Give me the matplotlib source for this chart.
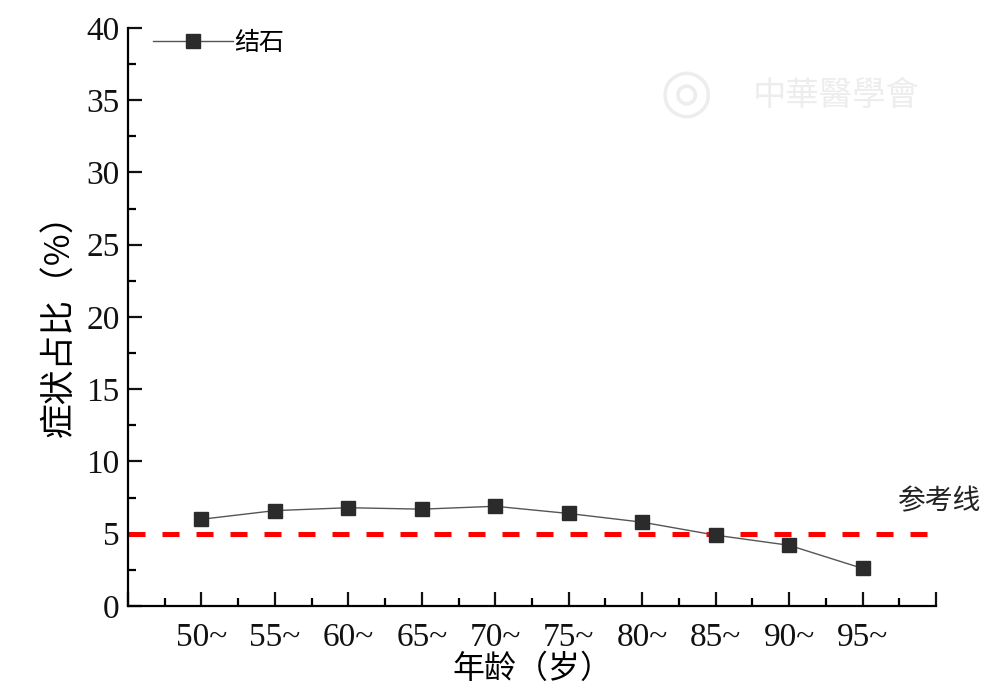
import numpy as np
import matplotlib.pyplot as plt
from matplotlib.ticker import MultipleLocator

plt.rcParams['font.family'] = ['Liberation Serif', 'Noto Sans CJK SC']
plt.rcParams['mathtext.fontset'] = 'stix'

# Daten
age_groups = ['50~', '55~', '60~', '65~', '70~', '75~', '80~', '85~', '90~', '95~']
stone_pct = [6.0, 6.6, 6.8, 6.7, 6.9, 6.4, 5.8, 4.9, 4.2, 2.6]
reference_value = 5

cjk = ['Noto Sans CJK SC', 'Liberation Serif']

fig = plt.figure(figsize=(9.95, 6.89), dpi=100)
ax = fig.add_axes([0.1286, 0.1205, 0.8121, 0.8389])

pos = np.arange(1, len(age_groups) + 1)
ax.plot(pos, stone_pct, color='#555555', lw=1.0, marker='s', ms=10,
        mfc='#2b2b2b', mec='#2b2b2b', label='结石', zorder=3)

ax.axhline(reference_value, color='#ff0000', lw=3.6, dashes=(3.4, 3.4), zorder=2)

ax.set_xlim(0, 11)
ax.set_ylim(0, 40)

ax.set_xticks(np.arange(0, 12))
ax.set_xticklabels([''] + age_groups + [''])
ax.xaxis.set_minor_locator(MultipleLocator(0.5))
ax.yaxis.set_major_locator(MultipleLocator(5))
ax.yaxis.set_minor_locator(MultipleLocator(2.5))

for side in ['top', 'right']:
    ax.spines[side].set_visible(False)
for side in ['left', 'bottom']:
    ax.spines[side].set_linewidth(1.6)

ax.tick_params(which='major', direction='in', length=10, width=1.6,
               labelsize=24, colors='#111111', pad=6)
ax.tick_params(which='minor', direction='in', length=6, width=1.6)
ax.tick_params(axis='x', which='major', pad=12)

ax.set_ylabel('症状占比（%）', family=cjk, fontsize=25, labelpad=6)
ax.set_xlabel('年龄（岁）', family=cjk, fontsize=23, labelpad=0)

leg = ax.legend(loc='upper left', frameon=False, prop={'family': cjk, 'size': 18},
                handlelength=3.2, handletextpad=0.05,
                bbox_to_anchor=(0.0, 1.04), borderaxespad=0.6)

fig.text(0.986, 0.272, '参考线', family=cjk, fontsize=20, ha='right', va='center',
         color='#222222')

# Wasserzeichen
fig.text(0.69, 0.862, '◎', fontsize=44, color='#ededed', ha='center', va='center',
         family=['DejaVu Sans'])
fig.text(0.84, 0.862, '中華醫學會', family=cjk, fontsize=24, color='#ededed',
         ha='center', va='center', style='italic')

fig.savefig('out.png', dpi=100)
